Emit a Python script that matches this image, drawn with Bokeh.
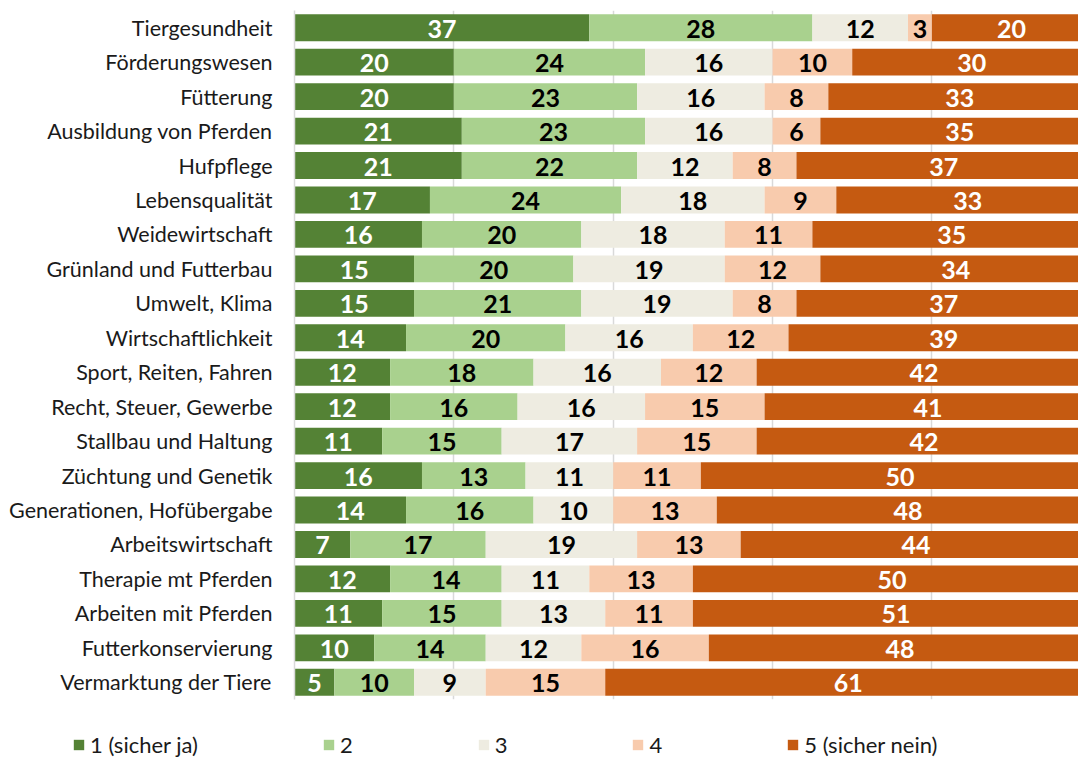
from bokeh.plotting import figure
from bokeh.models import ColumnDataSource, FactorRange, Range1d, FixedTicker, Legend, LegendItem
from bokeh.core.properties import value
from bokeh.embed import file_html
from bokeh.resources import INLINE

categories = ["Tiergesundheit", "Förderungswesen", "Fütterung", "Ausbildung von Pferden", "Hufpflege",
              "Lebensqualität", "Weidewirtschaft", "Grünland und Futterbau", "Umwelt, Klima",
              "Wirtschaftlichkeit", "Sport, Reiten, Fahren", "Recht, Steuer, Gewerbe",
              "Stallbau und Haltung", "Züchtung und Genetik", "Generationen, Hofübergabe",
              "Arbeitswirtschaft", "Therapie mt Pferden", "Arbeiten mit Pferden",
              "Futterkonservierung", "Vermarktung der Tiere"]
s1 = [37, 20, 20, 21, 21, 17, 16, 15, 15, 14, 12, 12, 11, 16, 14, 7, 12, 11, 10, 5]
s2 = [28, 24, 23, 23, 22, 24, 20, 20, 21, 20, 18, 16, 15, 13, 16, 17, 14, 15, 14, 10]
s3 = [12, 16, 16, 16, 12, 18, 18, 19, 19, 16, 16, 16, 17, 11, 10, 19, 11, 13, 12, 9]
s4 = [3, 10, 8, 6, 8, 9, 11, 12, 8, 12, 12, 15, 15, 11, 13, 13, 13, 11, 16, 15]
s5 = [20, 30, 33, 35, 37, 33, 35, 34, 37, 39, 42, 41, 42, 50, 48, 44, 50, 51, 48, 61]
series_names = ["1 (sicher ja)", "2", "3", "4", "5 (sicher nein)"]
colors = ["#548235", "#A9D18E", "#EEECE1", "#F8CBAD", "#C55A11"]
label_colors = ["white", "black", "black", "black", "white"]

FONT = "Lato"

p = figure(width=1078, height=700, output_backend="svg", toolbar_location=None,
           y_range=FactorRange(factors=list(reversed(categories)), range_padding=0),
           x_range=Range1d(0, 98.4),
           min_border_left=294, min_border_right=0, min_border_top=10, min_border_bottom=1)
p.outline_line_color = None
p.background_fill_color = "white"
p.border_fill_color = "white"

p.xaxis.visible = False
p.ygrid.visible = False
p.xgrid.ticker = FixedTicker(ticks=[20, 40, 60, 80])
p.xgrid.grid_line_color = "#D9D9D9"
p.xgrid.grid_line_width = 1.5

ax = p.yaxis[0]
ax.axis_line_color = "#D9D9D9"
ax.axis_line_width = 1.5
ax.major_tick_line_color = None
ax.minor_tick_line_color = None
ax.major_tick_out = 0
ax.major_tick_in = 0
ax.major_label_standoff = 22
ax.major_label_text_font = FONT
ax.major_label_text_font_size = "21.5px"
ax.major_label_text_color = "#1a1a1a"

all_series = [s1, s2, s3, s4, s5]
left = [0] * len(categories)
for i, s in enumerate(all_series):
    right = [l + v for l, v in zip(left, s)]
    mid = [(l + r) / 2 for l, r in zip(left, right)]
    src = ColumnDataSource(dict(cat=categories, left=left, right=right, mid=mid,
                                lab=[str(v) for v in s]))
    p.hbar(y="cat", left="left", right="right", height=0.78, source=src,
           fill_color=colors[i], line_color=None)
    p.text(x="mid", y="cat", text="lab", source=src, text_align="center",
           text_baseline="middle", text_font=value(FONT), text_font_style="bold",
           text_font_size="25px", text_color=label_colors[i], y_offset=1)
    left = right

# legend panel (separate root so its frame is not aligned to the chart's frame)
lg = figure(width=1078, height=58, output_backend="svg", toolbar_location=None,
            x_range=Range1d(0, 1), y_range=Range1d(0, 1),
            min_border_left=0, min_border_right=0, min_border_top=0, min_border_bottom=0)
lg.axis.visible = False
lg.grid.visible = False
lg.outline_line_color = None
lg.background_fill_color = "white"
lg.border_fill_color = "white"
items = []
for i, name in enumerate(series_names):
    r = lg.hbar(y=[5], left=[5], right=[6], height=0.5, fill_color=colors[i], line_color=None)
    items.append(LegendItem(label=name, renderers=[r]))
legend = Legend(items=items, orientation="horizontal", location=(72, 0),
                glyph_width=13, glyph_height=13, label_standoff=5, spacing=124,
                label_height=24, label_width=5, padding=0, margin=0, border_line_color=None,
                background_fill_alpha=0,
                label_text_font=FONT, label_text_font_size="22px", label_text_color="#1a1a1a")
lg.add_layout(legend, "center")

open("out.html", "w").write(file_html([p, lg], INLINE))
